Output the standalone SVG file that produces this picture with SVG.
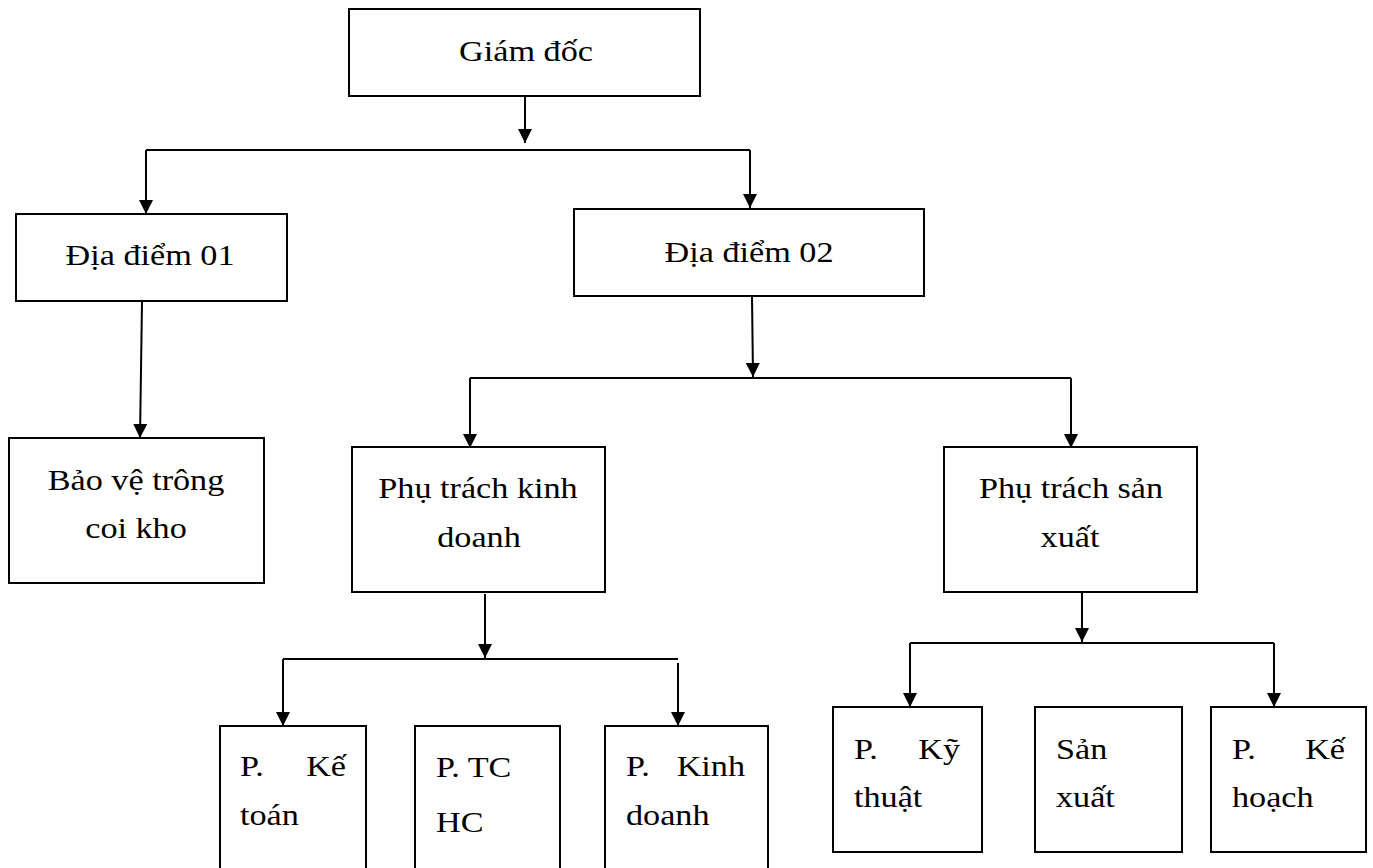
<svg xmlns="http://www.w3.org/2000/svg" width="1373" height="868" viewBox="0 0 1373 868">
<style>
.box{fill:#fff;stroke:#000;stroke-width:2}
.ln{fill:none;stroke:#000;stroke-width:2}
.ar{fill:none;stroke:#000;stroke-width:2;marker-end:url(#ah)}
text{font-family:"Liberation Serif","Times New Roman",serif;font-size:30px;fill:#000}
.m{text-anchor:middle}
.e{text-anchor:end}
</style>
<defs>
<marker id="ah" markerUnits="userSpaceOnUse" markerWidth="14" markerHeight="14" refX="14" refY="7" orient="auto">
<path d="M0,0 L14,7 L0,14 z" fill="#000"/>
</marker>
</defs>
<rect width="1373" height="868" fill="#fff"/>
<g id="connectors">
<line class="ar" x1="525" y1="96" x2="525" y2="143"/>
<line class="ln" x1="146" y1="150" x2="750" y2="150"/>
<line class="ar" x1="146" y1="150" x2="146" y2="214"/>
<line class="ar" x1="750" y1="150" x2="750" y2="208"/>
<line class="ar" x1="142" y1="302" x2="140" y2="438"/>
<line class="ar" x1="752" y1="297" x2="753" y2="377"/>
<line class="ln" x1="470" y1="378" x2="1071" y2="378"/>
<line class="ar" x1="470" y1="378" x2="470" y2="448"/>
<line class="ar" x1="1071" y1="378" x2="1071" y2="448"/>
<line class="ar" x1="485" y1="594" x2="485" y2="658"/>
<line class="ln" x1="283" y1="659" x2="678" y2="659"/>
<line class="ar" x1="283" y1="659" x2="283" y2="726"/>
<line class="ar" x1="678" y1="663" x2="678" y2="726"/>
<line class="ar" x1="1082" y1="593" x2="1082" y2="642"/>
<line class="ln" x1="910" y1="643" x2="1274" y2="643"/>
<line class="ar" x1="910" y1="643" x2="910" y2="707"/>
<line class="ar" x1="1274" y1="643" x2="1274" y2="707"/>
</g>
<g id="giam-doc">
<rect class="box" x="349" y="9" width="351" height="87"/>
<text class="m" transform="translate(526,61) scale(1.14,1)">Giám đốc</text>
</g>
<g id="dia-diem-01">
<rect class="box" x="16" y="214" width="271" height="87"/>
<text class="m" transform="translate(150,265) scale(1.14,1)">Địa điểm 01</text>
</g>
<g id="dia-diem-02">
<rect class="box" x="574" y="209" width="350" height="87"/>
<text class="m" transform="translate(749,262) scale(1.14,1)">Địa điểm 02</text>
</g>
<g id="bao-ve">
<rect class="box" x="9" y="438" width="255" height="145"/>
<text class="m" transform="translate(136,490) scale(1.14,1)">Bảo vệ trông</text>
<text class="m" transform="translate(136,538) scale(1.14,1)">coi kho</text>
</g>
<g id="phu-trach-kinh-doanh">
<rect class="box" x="352" y="447" width="253" height="145"/>
<text class="m" transform="translate(478,498) scale(1.14,1)">Phụ trách kinh</text>
<text class="m" transform="translate(479,547) scale(1.14,1)">doanh</text>
</g>
<g id="phu-trach-san-xuat">
<rect class="box" x="944" y="447" width="253" height="145"/>
<text class="m" transform="translate(1071,498) scale(1.14,1)">Phụ trách sản</text>
<text class="m" transform="translate(1070,547) scale(1.14,1)">xuất</text>
</g>
<g id="p-ke-toan">
<rect class="box" x="220" y="726" width="146" height="160"/>
<text transform="translate(240,776) scale(1.14,1)">P.</text>
<text class="e" transform="translate(346,776) scale(1.14,1)">Kế</text>
<text transform="translate(240,825) scale(1.14,1)">toán</text>
</g>
<g id="p-tc-hc">
<rect class="box" x="415" y="726" width="145" height="160"/>
<text transform="translate(436,777) scale(1.14,1)">P. TC</text>
<text transform="translate(436,832) scale(1.14,1)">HC</text>
</g>
<g id="p-kinh-doanh">
<rect class="box" x="605" y="726" width="163" height="160"/>
<text transform="translate(626,776) scale(1.14,1)">P.</text>
<text class="e" transform="translate(745,776) scale(1.14,1)">Kinh</text>
<text transform="translate(626,825) scale(1.14,1)">doanh</text>
</g>
<g id="p-ky-thuat">
<rect class="box" x="833" y="707" width="149" height="145"/>
<text transform="translate(854,759) scale(1.14,1)">P.</text>
<text class="e" transform="translate(960,759) scale(1.14,1)">Kỹ</text>
<text transform="translate(854,807) scale(1.14,1)">thuật</text>
</g>
<g id="san-xuat">
<rect class="box" x="1035" y="707" width="147" height="145"/>
<text transform="translate(1056,759) scale(1.14,1)">Sản</text>
<text transform="translate(1056,807) scale(1.14,1)">xuất</text>
</g>
<g id="p-ke-hoach">
<rect class="box" x="1211" y="707" width="155" height="145"/>
<text transform="translate(1232,759) scale(1.14,1)">P.</text>
<text class="e" transform="translate(1345,759) scale(1.14,1)">Kế</text>
<text transform="translate(1232,807) scale(1.14,1)">hoạch</text>
</g>
</svg>
